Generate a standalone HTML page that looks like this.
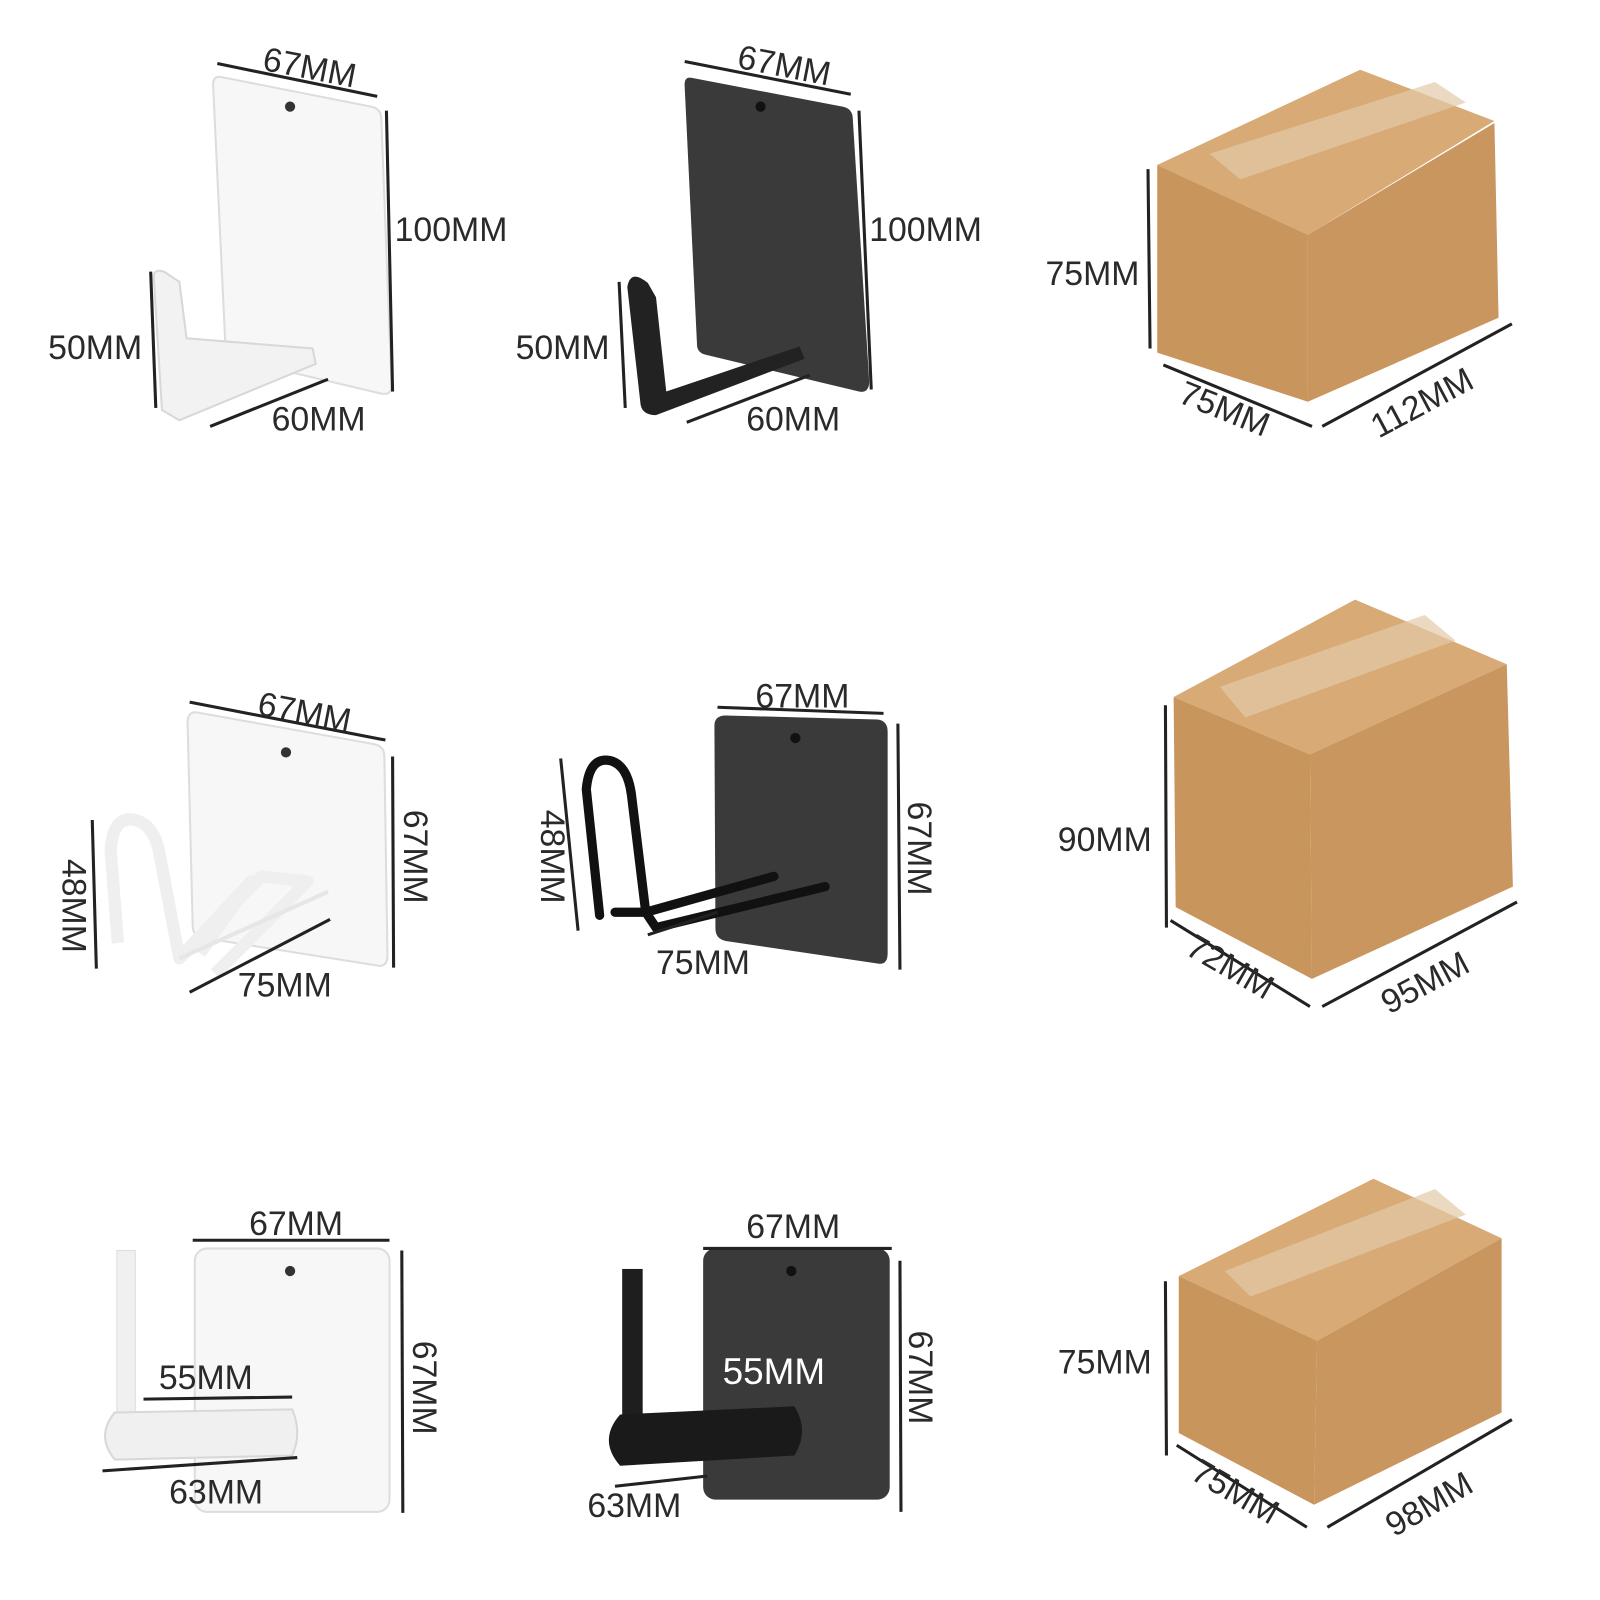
<!DOCTYPE html>
<html><head><meta charset="utf-8"><style>
html,body{margin:0;padding:0;background:#fff;}
svg{display:block}
text{font-family:"Liberation Sans",sans-serif;font-size:33px;fill:#2a2a2a;}
.l{stroke:#222;stroke-width:3;fill:none}
</style></head><body>
<svg width="1600" height="1600" viewBox="0 0 1600 1600">
<g transform="scale(1.025)">
<!-- ROW 1 white -->
<path d="M215,75 L362,104 Q372,106 372,116 L382,376 Q382,386 372,384 L228,350 Q220,348 220,340 L208,85 Q207,74 215,75Z" fill="#f7f7f7" stroke="#ddd" stroke-width="2"/>
<circle cx="283" cy="104" r="5" fill="#333"/>
<path d="M150,270 Q150,262 160,265 L175,275 L182,330 L305,340 L308,355 L175,410 L158,400Z" fill="#f2f2f2" stroke="#d8d8d8" stroke-width="2"/>
<line class="l" x1="212" y1="62" x2="368" y2="94"/>
<text transform="translate(255,68) rotate(11)">67MM</text>
<line class="l" x1="377" y1="108" x2="383" y2="382"/>
<text x="385" y="235">100MM</text>
<line class="l" x1="147" y1="265" x2="152" y2="398"/>
<text x="47" y="350">50MM</text>
<line class="l" x1="205" y1="416" x2="320" y2="370"/>
<text x="265" y="420">60MM</text>
<!-- ROW 1 black -->
<path d="M675,76 L822,104 Q832,106 832,116 L848,372 Q848,384 838,382 L688,346 Q680,344 680,336 L668,85 Q667,74 675,76Z" fill="#3a3a3a"/>
<circle cx="742" cy="104" r="5" fill="#111"/>
<path d="M612,280 Q615,262 632,276 L640,290 L650,382 L780,338 L785,350 L640,405 Q627,405 625,395Z" fill="#222"/>
<line class="l" x1="668" y1="60" x2="830" y2="92"/>
<text transform="translate(718,66) rotate(11)">67MM</text>
<line class="l" x1="838" y1="108" x2="850" y2="380"/>
<text x="848" y="235">100MM</text>
<line class="l" x1="604" y1="275" x2="610" y2="398"/>
<text x="503" y="350">50MM</text>
<line class="l" x1="670" y1="412" x2="790" y2="366"/>
<text x="728" y="420">60MM</text>
<!-- Box 1 -->
<polygon points="1129,161 1327,68 1458,118 1276,229" fill="#d7aa76"/>
<polygon points="1129,161 1276,229 1276,392 1129,344" fill="#c8955c"/>
<polygon points="1276,229 1458,120 1462,310 1276,392" fill="#c99660"/>
<polygon points="1180,150 1400,80 1430,100 1210,175" fill="#e3c9a6" opacity="0.7"/>
<line class="l" x1="1120" y1="165" x2="1122" y2="340"/>
<text x="1020" y="278">75MM</text>
<line class="l" x1="1135" y1="356" x2="1280" y2="416"/>
<text transform="translate(1148,392) rotate(22)">75MM</text>
<line class="l" x1="1290" y1="416" x2="1475" y2="316"/>
<text transform="translate(1345,428) rotate(-28)">112MM</text>

<!-- ROW 2 white -->
<path d="M192,695 L365,726 Q375,728 375,738 L378,932 Q378,944 368,942 L198,915 Q188,913 188,903 L183,705 Q183,694 192,695Z" fill="#f7f7f7" stroke="#ddd" stroke-width="2"/>
<circle cx="279" cy="734" r="5" fill="#333"/>
<path d="M115,920 L108,830 Q110,795 132,800 Q150,805 155,830 L175,935 L245,860 L195,930 M175,935 L255,855 L300,860 L210,950" fill="none" stroke="#efefef" stroke-width="12" stroke-linejoin="round"/>
<path d="M175,935 L320,870" fill="none" stroke="#e6e6e6" stroke-width="4"/>
<line class="l" x1="185" y1="685" x2="376" y2="722"/>
<text transform="translate(250,697) rotate(11)">67MM</text>
<line class="l" x1="383" y1="738" x2="384" y2="944"/>
<text transform="translate(394,790) rotate(90)">67MM</text>
<line class="l" x1="90" y1="800" x2="94" y2="945"/>
<text transform="translate(61,838) rotate(90)">48MM</text>
<line class="l" x1="185" y1="968" x2="322" y2="897"/>
<text x="232" y="972">75MM</text>
<!-- ROW 2 black -->
<path d="M708,698 L856,702 Q866,703 866,714 L866,930 Q866,942 856,940 L708,918 Q698,916 698,906 L697,708 Q697,698 708,698Z" fill="#3a3a3a"/>
<circle cx="776" cy="720" r="5" fill="#111"/>
<path d="M585,893 L572,770 Q575,738 595,742 Q612,746 616,775 L630,890 L755,855 M600,890 L630,890 L640,905 L805,865" fill="none" stroke="#111" stroke-width="9" stroke-linejoin="round" stroke-linecap="round"/>
<line class="l" x1="700" y1="690" x2="862" y2="696"/>
<text x="737" y="690">67MM</text>
<line class="l" x1="876" y1="706" x2="878" y2="946"/>
<text transform="translate(886,782) rotate(90)">67MM</text>
<line class="l" x1="547" y1="740" x2="564" y2="908"/>
<text transform="translate(528,790) rotate(90)">48MM</text>
<line class="l" x1="632" y1="912" x2="700" y2="890"/>
<text x="640" y="950">75MM</text>
<!-- Box 2 -->
<polygon points="1145,680 1322,585 1470,648 1278,736" fill="#d7aa76"/>
<polygon points="1145,680 1278,736 1280,955 1147,885" fill="#c8955c"/>
<polygon points="1278,736 1470,648 1476,865 1280,955" fill="#c99660"/>
<polygon points="1190,670 1390,600 1420,625 1215,700" fill="#e3c9a6" opacity="0.7"/>
<line class="l" x1="1137" y1="688" x2="1138" y2="905"/>
<text x="1032" y="830">90MM</text>
<line class="l" x1="1142" y1="898" x2="1278" y2="982"/>
<text transform="translate(1155,930) rotate(30)">72MM</text>
<line class="l" x1="1290" y1="982" x2="1480" y2="880"/>
<text transform="translate(1355,990) rotate(-28)">95MM</text>

<!-- ROW 3 white -->
<rect x="190" y="1218" width="190" height="257" rx="12" fill="#f7f7f7" stroke="#ddd" stroke-width="2"/>
<circle cx="283" cy="1240" r="5" fill="#333"/>
<rect x="114" y="1220" width="18" height="165" fill="#f0f0f0" stroke="#ddd"/>
<path d="M112,1378 L285,1375 Q295,1398 285,1420 L112,1424 Q93,1401 112,1378Z" fill="#f0f0f0" stroke="#d8d8d8" stroke-width="2"/>
<line class="l" x1="188" y1="1210" x2="380" y2="1210"/>
<text x="243" y="1205">67MM</text>
<line class="l" x1="392" y1="1220" x2="393" y2="1476"/>
<text transform="translate(403,1308) rotate(90)">67MM</text>
<line class="l" x1="140" y1="1365" x2="285" y2="1363"/>
<text x="155" y="1355">55MM</text>
<line class="l" x1="100" y1="1435" x2="290" y2="1422"/>
<text x="165" y="1467">63MM</text>
<!-- ROW 3 black -->
<rect x="686" y="1218" width="182" height="245" rx="12" fill="#3a3a3a"/>
<circle cx="772" cy="1240" r="5" fill="#111"/>
<rect x="607" y="1238" width="20" height="160" fill="#1e1e1e"/>
<path d="M605,1380 L775,1372 Q790,1396 775,1420 L605,1430 Q583,1405 605,1380Z" fill="#1a1a1a"/>
<line class="l" x1="686" y1="1218" x2="870" y2="1218"/>
<text x="728" y="1208">67MM</text>
<line class="l" x1="878" y1="1230" x2="879" y2="1475"/>
<text transform="translate(887,1298) rotate(90)">67MM</text>
<text x="705" y="1350" style="fill:#fff;font-size:36px">55MM</text>
<line class="l" x1="600" y1="1450" x2="690" y2="1440"/>
<text x="573" y="1480">63MM</text>
<!-- Box 3 -->
<polygon points="1150,1245 1340,1150 1465,1208 1285,1308" fill="#d7aa76"/>
<polygon points="1150,1245 1285,1308 1282,1468 1150,1398" fill="#c8955c"/>
<polygon points="1285,1308 1465,1208 1465,1378 1282,1468" fill="#c99660"/>
<polygon points="1195,1240 1400,1160 1430,1185 1220,1265" fill="#e3c9a6" opacity="0.7"/>
<line class="l" x1="1137" y1="1250" x2="1138" y2="1420"/>
<text x="1032" y="1340">75MM</text>
<line class="l" x1="1148" y1="1410" x2="1275" y2="1490"/>
<text transform="translate(1160,1442) rotate(30)">75MM</text>
<line class="l" x1="1295" y1="1490" x2="1475" y2="1385"/>
<text transform="translate(1360,1500) rotate(-30)">98MM</text>
</g>
</svg>
</body></html>
